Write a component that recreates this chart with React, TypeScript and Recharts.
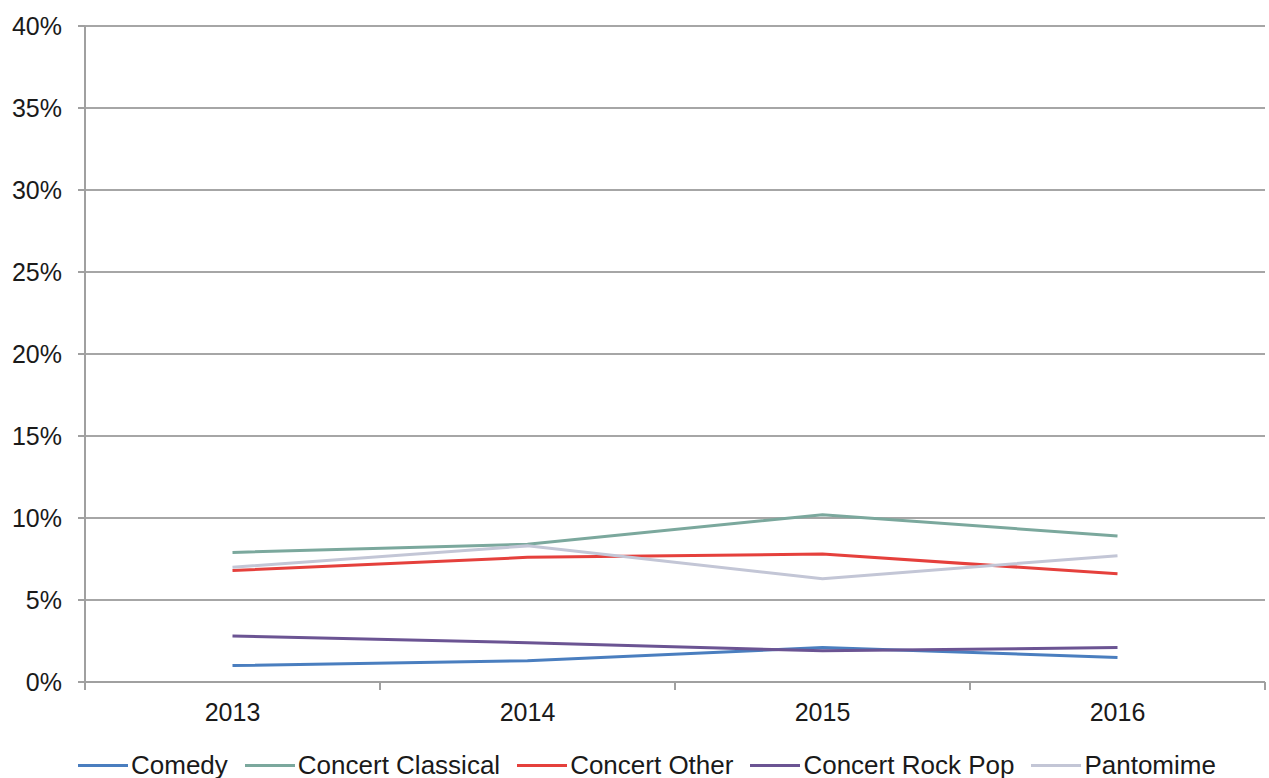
import { LineChart, Line, XAxis, YAxis, CartesianGrid } from 'recharts';

const years = ['2013', '2014', '2015', '2016'];
const comedy = [1.0, 1.3, 2.1, 1.5];
const concertClassical = [7.9, 8.4, 10.2, 8.9];
const concertOther = [6.8, 7.6, 7.8, 6.6];
const concertRockPop = [2.8, 2.4, 1.9, 2.1];
const pantomime = [7.0, 8.3, 6.3, 7.7];
const yTicks = [0, 5, 10, 15, 20, 25, 30, 35, 40];

const series = [
  { key: 'comedy', name: 'Comedy', color: '#4a7ebf', values: comedy },
  { key: 'classical', name: 'Concert Classical', color: '#7ba89d', values: concertClassical },
  { key: 'other', name: 'Concert Other', color: '#e5403c', values: concertOther },
  { key: 'rockpop', name: 'Concert Rock Pop', color: '#6b5493', values: concertRockPop },
  { key: 'pantomime', name: 'Pantomime', color: '#c3c6d6', values: pantomime },
];

const data = years.map((year, i) => {
  const row: Record<string, number | string> = { x: i + 0.5, year };
  series.forEach((s) => {
    row[s.key] = s.values[i];
  });
  return row;
});

// label ticks sit at category centres, tick marks between categories (Excel style)
const xTicks = [0, 0.5, 1, 1.5, 2, 2.5, 3, 3.5, 4];

const FONT = '"Liberation Sans", Arial, sans-serif';

function XTick(props: any) {
  const { x, y, payload } = props;
  const v = payload.value as number;
  if (Number.isInteger(v)) {
    return <line x1={x} x2={x} y1={y} y2={y + 8} stroke="#a0a0a0" strokeWidth={2} />;
  }
  return (
    <text x={x} y={y + 39} textAnchor="middle" fill="#1a1a1a" fontSize={25} fontFamily={FONT}>
      {years[Math.floor(v)]}
    </text>
  );
}

export default function App() {
  return (
    <div style={{ position: 'absolute', left: 0, top: 0, width: 1269, height: 778, background: '#fff' }}>
      <LineChart width={1269} height={778} data={data} margin={{ top: 26, right: 4, left: 0, bottom: 0 }}>
        <CartesianGrid vertical={false} stroke="#a6a6a6" strokeWidth={2} />
        <XAxis
          dataKey="x"
          type="number"
          domain={[0, 4]}
          ticks={xTicks}
          interval={0}
          height={96}
          tickSize={0}
          tickMargin={0}
          tickLine={false}
          axisLine={{ stroke: '#a0a0a0', strokeWidth: 2 }}
          tick={<XTick />}
        />
        <YAxis
          type="number"
          domain={[0, 40]}
          ticks={yTicks}
          interval={0}
          width={85}
          tickSize={7}
          tickMargin={16}
          tickFormatter={(v: number) => `${v}%`}
          axisLine={{ stroke: '#a0a0a0', strokeWidth: 2 }}
          tickLine={{ stroke: '#a0a0a0', strokeWidth: 2 }}
          tick={{ fill: '#1a1a1a', fontSize: 25, fontFamily: FONT }}
        />
        {series.map((s) => (
          <Line
            key={s.key}
            dataKey={s.key}
            name={s.name}
            type="linear"
            stroke={s.color}
            strokeWidth={3}
            dot={false}
            activeDot={false}
            isAnimationActive={false}
          />
        ))}
      </LineChart>
      <div
        style={{
          position: 'absolute',
          left: 78,
          top: 748,
          height: 34,
          display: 'flex',
          alignItems: 'center',
          fontFamily: FONT,
          fontSize: 26,
          color: '#1a1a1a',
          whiteSpace: 'nowrap',
        }}
      >
        {series.map((s) => (
          <div key={s.key} style={{ display: 'flex', alignItems: 'center', marginRight: 17 }}>
            <div style={{ width: 50, height: 3, background: s.color }} />
            <span style={{ marginLeft: 3 }}>{s.name}</span>
          </div>
        ))}
      </div>
    </div>
  );
}
